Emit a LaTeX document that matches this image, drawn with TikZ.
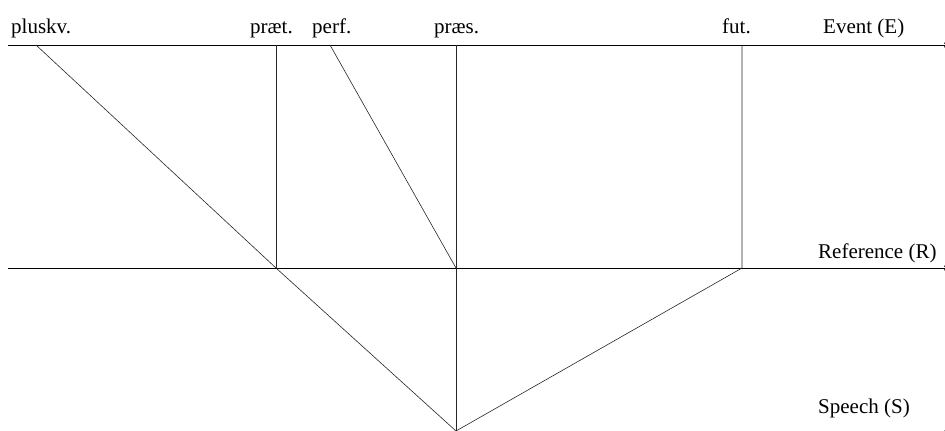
\documentclass[tikz,border=0pt]{standalone}
\usepackage{fontspec}
\setmainfont{Liberation Serif}
\usetikzlibrary{arrows.meta}
\begin{document}
\begin{tikzpicture}[x=1pt,y=-1pt,
  lbl/.style={anchor=base west,inner sep=0pt,font=\fontsize{21}{25}\selectfont},
  axis/.style={line width=1pt,-{To[length=3pt,width=5pt]}},
  thin/.style={line width=0.6pt,draw=black!85}]
\useasboundingbox (0,0) rectangle (945,431);
% axes
\coordinate (e0) at (8,45); \coordinate (e1) at (947,45);
\coordinate (r0) at (8,268); \coordinate (r1) at (947,268);
\coordinate (s0) at (8,433); \coordinate (s1) at (947,433);
\draw[axis] (e0) -- (e1);
\draw[axis] (r0) -- (r1);
\draw[axis] (s0) -- (s1);
% points
\coordinate (pluE) at (36,45);
\coordinate (praetE) at (276,45);
\coordinate (perfE) at (330,45);
\coordinate (praesE) at (456,45);
\coordinate (futE) at (742,45);
\coordinate (praetR) at (276,268);
\coordinate (praesR) at (456,268);
\coordinate (futR) at (742,268);
\coordinate (S) at (456,431);
\draw[thin] (pluE) -- (praetR) -- (S);
\draw[thin] (praetE) -- (praetR);
\draw[thin] (perfE) -- (praesR);
\draw[thin] (praesE) -- (S);
\draw[thin] (futE) -- (futR) -- (S);
% labels
\node[lbl] (lplu) at (11,33) {pluskv.};
\node[lbl] (lpraet) at (250,33) {præt.};
\node[lbl] (lperf) at (312,33) {perf.};
\node[lbl] (lpraes) at (434,33) {præs.};
\node[lbl] (lfut) at (722,33) {fut.};
\node[lbl] (lE) at (823,33) {Event (E)};
\node[lbl] (lR) at (818,258) {Reference (R)};
\node[lbl] (lS) at (818,413) {Speech (S)};
\end{tikzpicture}
\end{document}
